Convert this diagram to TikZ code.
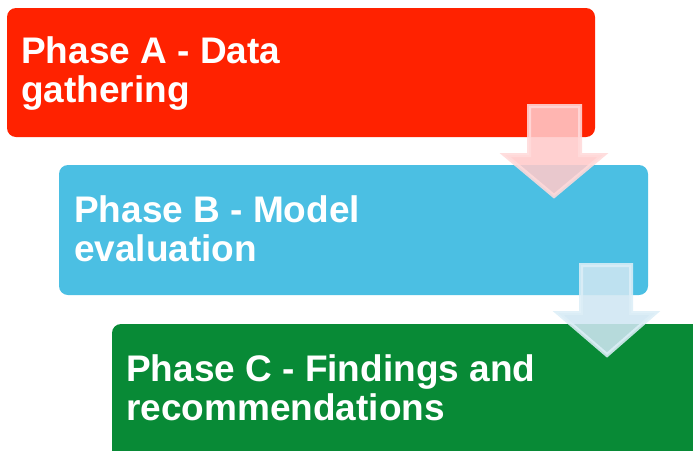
\documentclass[tikz,border=0pt]{standalone}
\usepackage{fontspec}
\setmainfont{Liberation Sans}
\definecolor{phaseRed}{HTML}{FF2200}
\definecolor{phaseBlue}{HTML}{4BBFE3}
\definecolor{phaseGreen}{HTML}{088A36}
\definecolor{arrowPinkFill}{HTML}{FFCACA}
\definecolor{arrowPinkLine}{HTML}{FFDADA}
\definecolor{arrowBlueFill}{HTML}{CFE6F2}
\definecolor{arrowBlueLine}{HTML}{DCEEF7}
\tikzset{
  phasebox/.style={rounded corners=9pt},
  phasetext/.style={anchor=base west, inner sep=0pt, align=left, text=white,
    font=\fontsize{37}{39}\selectfont\bfseries},
  downarrow/.style={line width=4pt, opacity=0.88, line join=miter},
}
\begin{document}
\begin{tikzpicture}[x=1pt,y=-1pt]
\useasboundingbox (0,0) rectangle (693,450);
\clip (0,0) rectangle (693,450);
% boxes
\fill[phaseRed, phasebox] (7,8) rectangle (595,137);
\fill[phaseBlue, phasebox] (59,165) rectangle (648,295);
\fill[phaseGreen, phasebox] (112,324) rectangle (720,480);
% texts (anchored at the baseline of the last line)
\node[phasetext] (ta) at (21,102) {Phase A - Data\\gathering};
\node[phasetext] (tb) at (74,261) {Phase B - Model\\evaluation};
\node[phasetext] (tc) at (126,420) {Phase C - Findings and\\recommendations};
% arrows
\filldraw[downarrow, fill=arrowPinkFill, draw=arrowPinkLine]
  (529,106) -- (580,106) -- (580,155) -- (603,155) -- (554,196) -- (505,155) -- (529,155) -- cycle;
\filldraw[downarrow, fill=arrowBlueFill, draw=arrowBlueLine]
  (581,265) -- (631,265) -- (631,313) -- (655,313) -- (607,355) -- (558,313) -- (581,313) -- cycle;
\end{tikzpicture}
\end{document}
